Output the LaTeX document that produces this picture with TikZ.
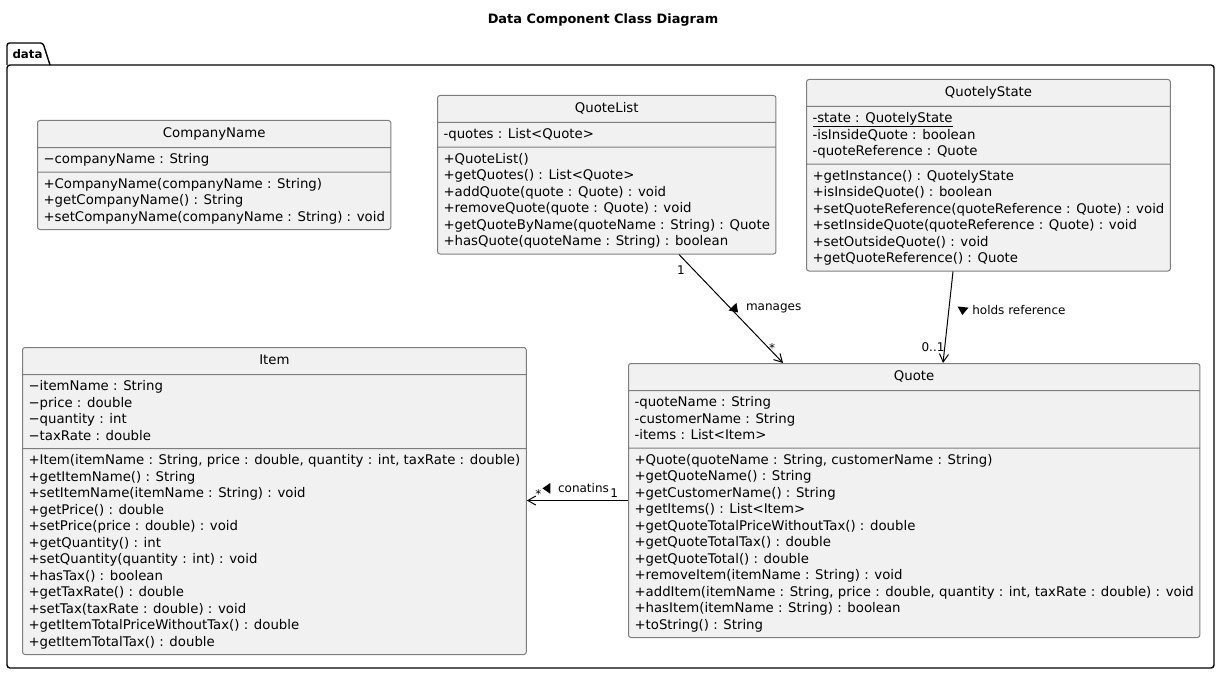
\documentclass[tikz,border=0pt]{standalone}
\usepackage{fontspec}
\setmainfont{DejaVu Sans}
\usetikzlibrary{shapes.multipart, shapes.geometric, arrows.meta, calc}
\definecolor{clsfill}{RGB}{241,241,241}
\definecolor{clsline}{RGB}{125,125,125}
\newcommand{\clstitle}[1]{\rule[-6pt]{0pt}{19pt}#1}
\newcommand{\clspart}[1]{\rule[-4.5pt]{0pt}{16.5pt}#1\rule[-4.5pt]{0pt}{16.5pt}}

\begin{document}
\begin{tikzpicture}[
  x=1pt, y=-1pt,
  classbox/.style={rectangle split, rectangle split parts=3, draw=clsline, fill=clsfill,
              line width=1pt, rounded corners=2.5pt, anchor=north west,
              inner xsep=6pt, inner ysep=3.5pt, align=left,
              rectangle split part align={center,left,left},
              font=\fontsize{13.3}{16.5}\selectfont},
  pkgline/.style={draw=black, line width=1.4pt},
  assoc/.style={-{Straight Barb[length=8pt,width=9pt]}, line width=1pt},
  lbl/.style={font=\fontsize{12}{14}\selectfont, inner sep=1pt},
  mult/.style={font=\fontsize{12}{14}\selectfont, inner sep=1pt},
  tri/.style={isosceles triangle, isosceles triangle stretches, fill=black,
              inner sep=0pt, minimum width=11pt, minimum height=8pt},
]
  \useasboundingbox (0,0) rectangle (1220,674);

  % Title
  \node[font=\fontsize{12.9}{15}\selectfont\bfseries] (title) at (603,20) {Data Component Class Diagram};

  % Package: data
  \draw[pkgline, rounded corners=2.5pt] (7,65) -- (7,43) -- (43,43) -- (50,65);
  \draw[pkgline, rounded corners=3pt] (7,65) rectangle (1214,668);
  \node[font=\fontsize{11.8}{14}\selectfont\bfseries, anchor=west] (pkgname) at (9,54) {data};

  % Top row: CompanyName / QuoteList / QuotelyState
  \node[classbox, minimum width=350pt] (company) at (37,120) {\clstitle{CompanyName}
    \nodepart{two}\clspart{−companyName : String}
    \nodepart{three}\clspart{+CompanyName(companyName : String)\\
      +getCompanyName() : String\\
      +setCompanyName(companyName : String) : void}};

  \node[classbox, minimum width=334pt] (quotelist) at (437,95) {\clstitle{QuoteList}
    \nodepart{two}\clspart{-quotes : List<Quote>}
    \nodepart{three}\clspart{+QuoteList()\\
      +getQuotes() : List<Quote>\\
      +addQuote(quote : Quote) : void\\
      +removeQuote(quote : Quote) : void\\
      +getQuoteByName(quoteName : String) : Quote\\
      +hasQuote(quoteName : String) : boolean}};

  \node[classbox, minimum width=363pt] (state) at (806,79) {\clstitle{QuotelyState}
    \nodepart{two}\clspart{\underline{-state : QuotelyState}\\
      -isInsideQuote : boolean\\
      -quoteReference : Quote}
    \nodepart{three}\clspart{+getInstance() : QuotelyState\\
      +isInsideQuote() : boolean\\
      +setQuoteReference(quoteReference : Quote) : void\\
      +setInsideQuote(quoteReference : Quote) : void\\
      +setOutsideQuote() : void\\
      +getQuoteReference() : Quote}};

  % Bottom row: Item / Quote
  \node[classbox, minimum width=503pt] (item) at (22,347) {\clstitle{Item}
    \nodepart{two}\clspart{−itemName : String\\
      −price : double\\
      −quantity : int\\
      −taxRate : double}
    \nodepart{three}\clspart{+Item(itemName : String, price : double, quantity : int, taxRate : double)\\
      +getItemName() : String\\
      +setItemName(itemName : String) : void\\
      +getPrice() : double\\
      +setPrice(price : double) : void\\
      +getQuantity() : int\\
      +setQuantity(quantity : int) : void\\
      +hasTax() : boolean\\
      +getTaxRate() : double\\
      +setTax(taxRate : double) : void\\
      +getItemTotalPriceWithoutTax() : double\\
      +getItemTotalTax() : double}};

  \node[classbox, minimum width=569pt] (quote) at (628,363) {\clstitle{Quote}
    \nodepart{two}\clspart{-quoteName : String\\
      -customerName : String\\
      -items : List<Item>}
    \nodepart{three}\clspart{+Quote(quoteName : String, customerName : String)\\
      +getQuoteName() : String\\
      +getCustomerName() : String\\
      +getItems() : List<Item>\\
      +getQuoteTotalPriceWithoutTax() : double\\
      +getQuoteTotalTax() : double\\
      +getQuoteTotal() : double\\
      +removeItem(itemName : String) : void\\
      +addItem(itemName : String, price : double, quantity : int, taxRate : double) : void\\
      +hasItem(itemName : String) : boolean\\
      +toString() : String}};

  % QuoteList -> Quote
  \draw[assoc] ([xshift=242pt]quotelist.south west) --
    node[mult, pos=0, below=10pt, xshift=2pt] (m1) {1}
    node[lbl, pos=0.5, anchor=west, xshift=13.5pt] (mlbl) {manages}
    node[mult, pos=1, anchor=south east, xshift=-6.5pt, yshift=9.5pt] (m2) {*}
    ([xshift=155pt]quote.north west);
  \node[tri, rotate=-46] (t1) at ([xshift=-10pt]mlbl.west) {};

  % QuotelyState -> Quote
  \draw[assoc] ([xshift=147pt]state.south west) --
    node[lbl, pos=0.42, anchor=west, xshift=22pt] (hlbl) {holds reference}
    node[mult, pos=1, anchor=south east, xshift=3pt, yshift=10pt] (m3) {0..1}
    ([xshift=315pt]quote.north west);
  \node[tri, rotate=-96] (t2) at ([xshift=-8pt]hlbl.west) {};

  % Quote -> Item
  \draw[assoc] (quote.west) --
    node[mult, pos=0, anchor=south east, xshift=-8.5pt, yshift=1.5pt] (m4) {1}
    node[lbl, pos=0.44, above=6pt] (clbl) {conatins}
    node[mult, pos=1, anchor=south west, xshift=7pt, yshift=1pt] (m5) {*}
    (quote.west -| item.east);
  \node[tri, rotate=180] (t3) at ([xshift=-9pt]clbl.west) {};
\end{tikzpicture}
\end{document}
